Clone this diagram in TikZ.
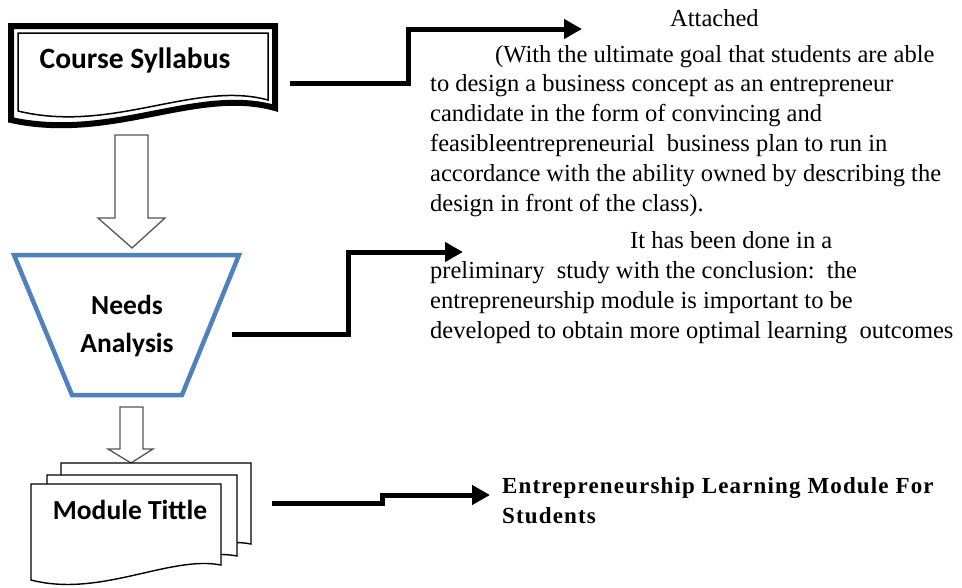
\documentclass[tikz,border=0pt]{standalone}
\usepackage{fontspec}
\setmainfont{Liberation Serif}
\newfontfamily\boxfont{Carlito}
\newfontfamily\leadfont[LetterSpace=5]{Liberation Serif}
\usetikzlibrary{arrows.meta}
\definecolor{funnelblue}{RGB}{79,129,189}
\definecolor{outlinegray}{RGB}{85,85,85}
\tikzset{
  boxlabel/.style={font=\boxfont\bfseries\fontsize{27.5}{38}\selectfont, align=center, inner sep=0pt},
  % multi-line notes are placed by the baseline of their last line
  note/.style={font=\fontsize{24.5}{29.8}\selectfont, align=left, inner sep=0pt, anchor=base west},
  leadnote/.style={font=\leadfont\bfseries\fontsize{23}{29.5}\selectfont, align=left, inner sep=0pt, anchor=base west},
  hollowarrow/.style={draw=outlinegray, line width=1.3pt, fill=white, line join=miter},
  flow/.style={line width=5pt, line join=miter, -{Triangle[length=18pt,width=19pt]}},
  page/.style={draw=black, line width=1.4pt, fill=white},
}
\begin{document}
\begin{tikzpicture}[x=1pt,y=-1pt]
\useasboundingbox (0,0) rectangle (962,587);

% Course syllabus: document with a thick-thin frame
\draw[line width=6pt, line join=miter] (11,26) -- (275,26) -- (275,108)
  .. controls (197,86) and (112,142) .. (11,120) -- cycle;
\draw[line width=1.5pt] (18,33) -- (268,33) -- (268,100)
  .. controls (195,80) and (112,134) .. (18,111) -- cycle;
\node[boxlabel, font=\boxfont\bfseries\fontsize{29.5}{38}\selectfont] (syl) at (135,60) {Course Syllabus};

% hollow arrow down to the analysis step
\draw[hollowarrow] (115,135) -- (148,135) -- (148,218) -- (165,218)
  -- (132,248) -- (98,218) -- (115,218) -- cycle;

% Needs analysis: funnel
\draw[funnelblue, line width=4.5pt, line join=miter]
  (14,255) -- (239,255) -- (182,395) -- (72,395) -- cycle;
\node[boxlabel] (needs) at (127,326) {Needs\\Analysis};

% hollow arrow down to the module
\draw[hollowarrow] (120,407) -- (143,407) -- (143,449) -- (153,449)
  -- (131,463) -- (108,449) -- (120,449) -- cycle;

% Module: stack of pages, back to front
\foreach \dx/\dy in {30/-21, 16/-9, 0/0}{
  \begin{scope}[shift={(\dx,\dy)}]
    \draw[page] (31,484) -- (221,484) -- (221,565)
      .. controls (170,555) and (100,598) .. (31,580) -- cycle;
  \end{scope}
}
\node[boxlabel] (mod) at (130,510) {Module Tittle};

% connectors
\coordinate (c1s) at (290,83);
\coordinate (c1e) at (582,29);
\coordinate (c2s) at (232,334);
\coordinate (c2e) at (463,252);
\coordinate (c3s) at (272,503);
\coordinate (c3e) at (490,495);
\draw[flow] (c1s) -- ++(118,0) |- (c1e);
\draw[flow] (c2s) -- ++(116,0) |- (c2e);
\draw[flow] (c3s) -- ++(110,0) |- (c3e);

% notes
\node[note] (attached) at (670,26) {Attached};
\node[note] (goal) at (430,211) {\hspace*{65pt}(With the ultimate goal that students are able\\
to design a business concept as an entrepreneur\\
candidate in the form of convincing and\\
feasibleentrepreneurial\ \ business plan to run in\\
accordance with the ability owned by describing the\\
design in front of the class).};
\node[note] (study) at (430,338) {\hspace*{200pt}It has been done in a\\
preliminary\ \ study with the conclusion:\ \ the\\
entrepreneurship module is important to be\\
developed to obtain more optimal learning\ \ outcomes};
\node[leadnote] (result) at (502,523) {Entrepreneurship Learning Module For\\Students};
\end{tikzpicture}
\end{document}
